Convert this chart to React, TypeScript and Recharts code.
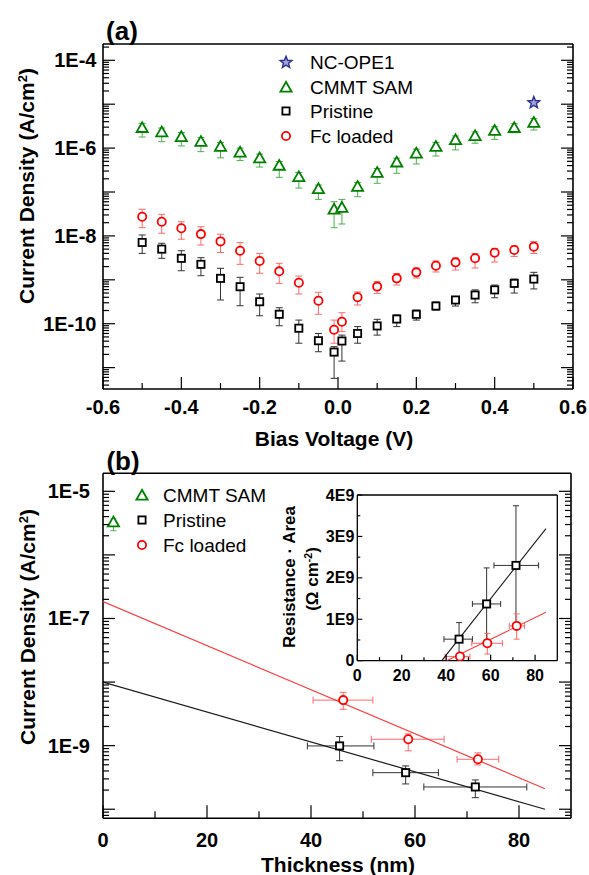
import React from 'react';
import { ScatterChart, Scatter, XAxis, YAxis, ErrorBar } from 'recharts';

const FONT = '"Liberation Sans", Arial, Helvetica, sans-serif';

// ---------- Panel (a): J vs bias ----------
const biasV = [-0.5, -0.45, -0.4, -0.35, -0.3, -0.25, -0.2, -0.15, -0.1, -0.05, -0.01, 0.01, 0.05, 0.1, 0.15, 0.2, 0.25, 0.3, 0.35, 0.4, 0.45, 0.5];
const cmmtJ = [2.9e-6, 2.3e-6, 1.8e-6, 1.4e-6, 1.08e-6, 8.0e-7, 5.9e-7, 4.0e-7, 2.2e-7, 1.17e-7, 4.0e-8, 4.4e-8, 1.32e-7, 2.75e-7, 4.75e-7, 7.6e-7, 1.08e-6, 1.53e-6, 1.89e-6, 2.5e-6, 2.9e-6, 3.8e-6];
const cmmtLo = [1.79e-6, 1.4e-6, 1.12e-6, 8.3e-7, 6.0e-7, 5.2e-7, 3.7e-7, 2.16e-7, 1.23e-7, 6.8e-8, 1.54e-8, 1.87e-8, 7.8e-8, 1.58e-7, 2.67e-7, 4.35e-7, 6.6e-7, 9.1e-7, 1.29e-6, 1.58e-6, 2.24e-6, 2.58e-6];
const cmmtHi = [3.67e-6, 2.87e-6, 2.26e-6, 1.74e-6, 1.34e-6, 1.0e-6, 7.3e-7, 4.95e-7, 2.78e-7, 1.44e-7, 6.0e-8, 6.8e-8, 1.64e-7, 3.43e-7, 5.9e-7, 9.5e-7, 1.34e-6, 1.89e-6, 2.33e-6, 3.07e-6, 3.6e-6, 4.7e-6];

const fcJ = [2.73e-8, 2.1e-8, 1.49e-8, 1.1e-8, 7.5e-9, 4.6e-9, 2.68e-9, 1.56e-9, 8.6e-10, 3.34e-10, 7.3e-11, 1.11e-10, 4.0e-10, 7.0e-10, 1.08e-9, 1.48e-9, 2.09e-9, 2.5e-9, 3.09e-9, 4.14e-9, 4.77e-9, 5.7e-9];
const fcHi = [4.04e-8, 3.1e-8, 2.1e-8, 1.62e-8, 1.09e-8, 7.1e-9, 4.0e-9, 2.38e-9, 1.22e-9, 5.2e-10, 1.21e-10, 1.78e-10, 5.3e-10, 9.1e-10, 1.39e-9, 1.86e-9, 2.68e-9, 3.14e-9, 3.97e-9, 5.2e-9, 5.9e-9, 7.4e-9];
const fcLo = [1.54e-8, 1.15e-8, 8.4e-9, 6.2e-9, 4.2e-9, 2.25e-9, 1.41e-9, 8.3e-10, 4.75e-10, 1.64e-10, 3.6e-11, 6.6e-11, 2.67e-10, 4.9e-10, 7.6e-10, 1.1e-9, 1.51e-9, 1.67e-9, 1.86e-9, 2.54e-9, 3.4e-9, 3.97e-9];

const priJ = [7.1e-9, 5.0e-9, 3.09e-9, 2.25e-9, 1.08e-9, 6.97e-10, 3.17e-10, 1.64e-10, 7.9e-11, 4.1e-11, 2.26e-11, 4.04e-11, 6.0e-11, 8.9e-11, 1.28e-10, 1.64e-10, 2.53e-10, 3.47e-10, 4.5e-10, 5.9e-10, 8.3e-10, 1.04e-9];
const priHi = [1.05e-8, 6.8e-9, 4.6e-9, 3.19e-9, 1.83e-9, 1.14e-9, 4.75e-10, 2.31e-10, 1.21e-10, 6.0e-11, 3.0e-11, 5.5e-11, 8.6e-11, 1.26e-10, 1.58e-10, 2.05e-10, 3.12e-10, 4.06e-10, 5.9e-10, 7.6e-10, 1.04e-9, 1.48e-9];
const priLo = [4.0e-9, 3.09e-9, 1.61e-9, 1.24e-9, 3.47e-10, 2.57e-10, 1.52e-10, 9.0e-11, 3.6e-11, 2.3e-11, 5.7e-12, 1.41e-11, 3.6e-11, 5.5e-11, 8.6e-11, 1.21e-10, 2.05e-10, 2.53e-10, 3.0e-10, 3.9e-10, 5.0e-10, 6.2e-10];

const ncV = [0.5];
const ncJ = [1.08e-5];

const aXDomain = [-0.6, 0.6];
const aYDomain = [3.26e-12, 2.35e-4];
const aXMajor = [-0.6, -0.4, -0.2, 0.0, 0.2, 0.4, 0.6];
const aXMinor = [-0.5, -0.3, -0.1, 0.1, 0.3, 0.5];
const aYLabelExps = [-4, -6, -8, -10];

// ---------- Panel (b): J vs thickness ----------
const cmmtThk = [2];
const cmmtThkJ = [3.26e-6];
const cmmtThkJHi = [3.7e-6];
const cmmtThkJLo = [2.4e-6];

const fcThk = [46.2, 58.7, 72.1];
const fcThkLo = [40.4, 51.6, 68.1];
const fcThkHi = [51.9, 65.6, 76.1];
const fcThkJ = [5.2e-9, 1.26e-9, 6.1e-10];
const fcThkJHi = [6.9e-9, 1.53e-9, 7.7e-10];
const fcThkJLo = [3.73e-9, 8.3e-10, 4.98e-10];

const priThk = [45.5, 58.2, 71.6];
const priThkLo = [39.3, 51.9, 61.7];
const priThkHi = [52.1, 64.5, 81.5];
const priThkJ = [9.9e-10, 3.76e-10, 2.24e-10];
const priThkJHi = [1.39e-9, 4.8e-10, 2.89e-10];
const priThkJLo = [5.8e-10, 2.5e-10, 1.52e-10];

const fcFitX = [0, 85];
const fcFitJ = [1.84e-7, 2.1e-10];
const priFitX = [0, 85];
const priFitJ = [1.0e-8, 1.0e-10];

const bXDomain = [0, 90];
const bYDomain = [7.2e-11, 1.92e-5];
const bXMajor = [0, 20, 40, 60, 80];
const bXMinor = [10, 30, 50, 70];
const bYLabelExps = [-5, -7, -9];

// ---------- Inset: resistance·area vs thickness ----------
const priRAx = [45.8, 58.2, 71.4];
const priRAxLo = [39.0, 51.8, 61.5];
const priRAxHi = [51.8, 64.5, 81.6];
const priRA = [0.52e9, 1.37e9, 2.3e9];
const priRAHi = [0.92e9, 2.24e9, 3.74e9];
const priRALo = [0.12e9, 0.5e9, 0.9e9];

const fcRAx = [46.2, 58.5, 71.7];
const fcRAxLo = [39.5, 51.5, 68.4];
const fcRAxHi = [50.7, 65.3, 75.2];
const fcRA = [0.1e9, 0.42e9, 0.84e9];
const fcRAHi = [0.18e9, 0.66e9, 1.13e9];
const fcRALo = [0.02e9, 0.16e9, 0.52e9];

const priRAFitX = [38.0, 84.9];
const priRAFitY = [0, 3.19e9];
const fcRAFitX = [40.2, 84.9];
const fcRAFitY = [0, 1.17e9];

const inXMajor = [0, 20, 40, 60, 80];
const inXMinor = [10, 30, 50, 70];
const inYMajor = [0, 1e9, 2e9, 3e9, 4e9];
const inYMinor = [0.5e9, 1.5e9, 2.5e9, 3.5e9];
const inYLabels = ['0', '1E9', '2E9', '3E9', '4E9'];

// ---------- colours ----------
const GREEN = '#008000';
const GREEN_ERR = '#4fae4f';
const RED = '#ff0000';
const RED_ERR = '#ff6a6a';
const BLACK = '#000000';
const BLACK_ERR = '#333333';
const BLUE = '#2e3192';

// ---------- helpers ----------
const pts = (xs: number[], ys: number[], lo?: number[], hi?: number[], xlo?: number[], xhi?: number[]) =>
  xs.map((x, i) => ({
    x,
    y: ys[i],
    ey: lo && hi ? [ys[i] - lo[i], hi[i] - ys[i]] : [0, 0],
    ex: xlo && xhi ? [x - xlo[i], xhi[i] - x] : [0, 0],
  }));

const logTicks = (min: number, max: number) => {
  const out: number[] = [];
  for (let e = Math.floor(Math.log10(min)); e <= Math.ceil(Math.log10(max)); e++) {
    for (let m = 1; m <= 9; m++) {
      const v = m * Math.pow(10, e);
      if (v >= min && v <= max) out.push(v);
    }
  }
  return out;
};

const isIn = (v: number, arr: number[]) => arr.some((a) => Math.abs(a - v) < 1e-9 * Math.max(1, Math.abs(a)));

// ---------- markers ----------
const Tri = (p: any) => (
  <polygon
    points={`${p.cx},${p.cy - 5.6} ${p.cx - 5.6},${p.cy + 4.2} ${p.cx + 5.6},${p.cy + 4.2}`}
    fill="#fff"
    stroke={GREEN}
    strokeWidth={1.8}
    strokeLinejoin="miter"
  />
);
const Sq = (p: any) => (
  <rect x={p.cx - 3.6} y={p.cy - 3.6} width={7.2} height={7.2} fill="#fff" stroke={BLACK} strokeWidth={1.8} />
);
const Circ = (p: any) => <circle cx={p.cx} cy={p.cy} r={4.1} fill="#fff" stroke={RED} strokeWidth={1.8} />;
const Star = (p: any) => {
  const R = 6.2;
  const r = 2.7;
  const arr: string[] = [];
  for (let i = 0; i < 10; i++) {
    const rad = i % 2 === 0 ? R : r;
    const ang = -Math.PI / 2 + (i * Math.PI) / 5;
    arr.push(`${p.cx + rad * Math.cos(ang)},${p.cy + rad * Math.sin(ang)}`);
  }
  return <polygon points={arr.join(' ')} fill="#9fa3d8" stroke={BLUE} strokeWidth={1.4} />;
};
const NoShape = () => <g />;

// ---------- ticks ----------
const LogTick = (props: any) => {
  const { x, y, payload, side, labelExps, gap, size } = props;
  const v = payload.value;
  const lg = Math.log10(v);
  const e = Math.round(lg);
  const major = Math.abs(lg - e) < 1e-6;
  const len = major ? 12 : 6;
  const dir = side === 'left' ? 1 : -1;
  return (
    <g>
      <line x1={x} y1={y} x2={x + dir * len} y2={y} stroke="#000" strokeWidth={1.2} />
      {side === 'left' && major && labelExps.includes(e) ? (
        <text x={x - gap} y={y} textAnchor="end" dominantBaseline="central" fontFamily={FONT} fontWeight="bold" fontSize={size} fill="#000">
          {`1E${e}`}
        </text>
      ) : null}
    </g>
  );
};

const XTick = (props: any) => {
  const { x, y, payload, majors, fmt, dy, size, majLen, minLen } = props;
  const v = payload.value;
  const major = isIn(v, majors);
  const len = major ? majLen : minLen;
  return (
    <g>
      <line x1={x} y1={y} x2={x} y2={y - len} stroke="#000" strokeWidth={1.2} />
      {major ? (
        <text x={x} y={y + dy} textAnchor="middle" dominantBaseline="central" fontFamily={FONT} fontWeight="bold" fontSize={size} fill="#000">
          {fmt(v)}
        </text>
      ) : null}
    </g>
  );
};

const InYTick = (props: any) => {
  const { x, y, payload } = props;
  const v = payload.value;
  const idx = inYMajor.findIndex((m) => Math.abs(m - v) < 1);
  const major = idx >= 0;
  return (
    <g>
      <line x1={x} y1={y} x2={x + (major ? 5 : 3)} y2={y} stroke="#000" strokeWidth={1.1} />
      {major ? (
        <text x={x - 3} y={y} textAnchor="end" dominantBaseline="central" fontFamily={FONT} fontWeight="bold" fontSize={16} fill="#000">
          {inYLabels[idx]}
        </text>
      ) : null}
    </g>
  );
};

// ---------- text overlays ----------
const T = ({ x, y, rot = 0, size, bold = false, left = false, children }: any) => (
  <div
    style={{
      position: 'absolute',
      left: x,
      top: y,
      transform: `translate(${left ? '0' : '-50%'},-50%) rotate(${rot}deg)`,
      fontFamily: FONT,
      fontSize: size,
      fontWeight: bold ? 'bold' : 'normal',
      whiteSpace: 'nowrap',
      lineHeight: 1,
      color: '#000',
    }}
  >
    {children}
  </div>
);

const Sup = ({ children }: any) => (
  <span style={{ fontSize: '0.62em', position: 'relative', top: '-0.55em' }}>{children}</span>
);

const LegendMark = ({ kind }: { kind: string }) => (
  <svg width={16} height={16} style={{ display: 'block' }}>
    {kind === 'star' && <Star cx={8} cy={8.5} />}
    {kind === 'tri' && <Tri cx={8} cy={8.5} />}
    {kind === 'sq' && <Sq cx={8} cy={8} />}
    {kind === 'circ' && <Circ cx={8} cy={8} />}
  </svg>
);

const LegendBox = ({ items, mx, tx, y0, dy, size }: any) => (
  <>
    {items.map((it: any, i: number) => (
      <React.Fragment key={it.name}>
        <div style={{ position: 'absolute', left: mx - 8, top: y0 + i * dy - 8 }}>
          <LegendMark kind={it.kind} />
        </div>
        <T x={tx} y={y0 + i * dy} size={size} left>
          {it.name}
        </T>
      </React.Fragment>
    ))}
  </>
);

const legendA = [
  { name: 'NC-OPE1', kind: 'star' },
  { name: 'CMMT SAM', kind: 'tri' },
  { name: 'Pristine', kind: 'sq' },
  { name: 'Fc loaded', kind: 'circ' },
];
const legendB = [
  { name: 'CMMT SAM', kind: 'tri' },
  { name: 'Pristine', kind: 'sq' },
  { name: 'Fc loaded', kind: 'circ' },
];

const axisLine = { stroke: '#000', strokeWidth: 1.6 };

export default function App() {
  const aYTicks = logTicks(aYDomain[0], aYDomain[1]);
  const bYTicks = logTicks(bYDomain[0], bYDomain[1]);
  const aXTicks = [...aXMajor, ...aXMinor].sort((a, b) => a - b);
  const bXTicks = [...bXMajor, ...bXMinor].sort((a, b) => a - b);
  const inXTicks = [...inXMajor, ...inXMinor].sort((a, b) => a - b);
  const inYTicks = [...inYMajor, ...inYMinor].sort((a, b) => a - b);

  const cmmtA = pts(biasV, cmmtJ, cmmtLo, cmmtHi);
  const fcA = pts(biasV, fcJ, fcLo, fcHi);
  const priA = pts(biasV, priJ, priLo, priHi);
  const ncA = pts(ncV, ncJ);

  const cmmtB = pts(cmmtThk, cmmtThkJ, cmmtThkJLo, cmmtThkJHi);
  const fcB = pts(fcThk, fcThkJ, fcThkJLo, fcThkJHi, fcThkLo, fcThkHi);
  const priB = pts(priThk, priThkJ, priThkJLo, priThkJHi, priThkLo, priThkHi);
  const fcFit = pts(fcFitX, fcFitJ);
  const priFit = pts(priFitX, priFitJ);

  const priIn = pts(priRAx, priRA, priRALo, priRAHi, priRAxLo, priRAxHi);
  const fcIn = pts(fcRAx, fcRA, fcRALo, fcRAHi, fcRAxLo, fcRAxHi);
  const priInFit = pts(priRAFitX, priRAFitY);
  const fcInFit = pts(fcRAFitX, fcRAFitY);

  return (
    <div style={{ position: 'absolute', left: 0, top: 0, width: 589, height: 875, background: '#fff', overflow: 'hidden' }}>
      {/* Panel (a): plot area x 103..573, y 44..389 */}
      <div style={{ position: 'absolute', left: 0, top: 0 }}>
        <ScatterChart width={589} height={440} margin={{ top: 43, right: 15, bottom: 50, left: 102 }}>
          <XAxis
            xAxisId="b"
            type="number"
            dataKey="x"
            domain={aXDomain}
            allowDataOverflow
            ticks={aXTicks}
            interval={0}
            height={1}
            tickSize={0}
            tickMargin={0}
            tickLine={false}
            axisLine={axisLine}
            tick={<XTick majors={aXMajor} fmt={(v: number) => v.toFixed(1)} dy={17.5} size={20} majLen={12} minLen={6} />}
          />
          <XAxis xAxisId="t" orientation="top" type="number" dataKey="x" domain={aXDomain} allowDataOverflow height={1} tick={false} tickLine={false} axisLine={axisLine} />
          <YAxis
            yAxisId="l"
            type="number"
            dataKey="y"
            scale="log"
            domain={aYDomain}
            allowDataOverflow
            ticks={aYTicks}
            interval={0}
            width={1}
            tickSize={0}
            tickMargin={0}
            tickLine={false}
            axisLine={axisLine}
            tick={<LogTick side="left" labelExps={aYLabelExps} gap={6.5} size={20} />}
          />
          <YAxis
            yAxisId="r"
            orientation="right"
            type="number"
            dataKey="y"
            scale="log"
            domain={aYDomain}
            allowDataOverflow
            ticks={aYTicks}
            interval={0}
            width={1}
            tickSize={0}
            tickMargin={0}
            tickLine={false}
            axisLine={axisLine}
            tick={<LogTick side="right" labelExps={[]} gap={0} size={20} />}
          />
          <Scatter name="CMMT SAM" xAxisId="b" yAxisId="l" data={cmmtA} shape={Tri} isAnimationActive={false}>
            <ErrorBar dataKey="ey" direction="y" width={3.5} stroke={GREEN_ERR} strokeWidth={1} />
          </Scatter>
          <Scatter name="Pristine" xAxisId="b" yAxisId="l" data={priA} shape={Sq} isAnimationActive={false}>
            <ErrorBar dataKey="ey" direction="y" width={3.5} stroke={BLACK_ERR} strokeWidth={1} />
          </Scatter>
          <Scatter name="Fc loaded" xAxisId="b" yAxisId="l" data={fcA} shape={Circ} isAnimationActive={false}>
            <ErrorBar dataKey="ey" direction="y" width={3.5} stroke={RED_ERR} strokeWidth={1} />
          </Scatter>
          <Scatter name="NC-OPE1" xAxisId="b" yAxisId="l" data={ncA} shape={Star} isAnimationActive={false} />
        </ScatterChart>
      </div>

      {/* Panel (b): plot area x 103..571, y 473.3..818.3 */}
      <div style={{ position: 'absolute', left: 0, top: 440 }}>
        <ScatterChart width={589} height={435} margin={{ top: 32.3, right: 17, bottom: 55.7, left: 102 }}>
          <XAxis
            xAxisId="b"
            type="number"
            dataKey="x"
            domain={bXDomain}
            allowDataOverflow
            ticks={bXTicks}
            interval={0}
            height={1}
            tickSize={0}
            tickMargin={0}
            tickLine={false}
            axisLine={axisLine}
            tick={<XTick majors={bXMajor} fmt={(v: number) => String(v)} dy={22} size={20} majLen={13} minLen={7} />}
          />
          <XAxis xAxisId="t" orientation="top" type="number" dataKey="x" domain={bXDomain} allowDataOverflow height={1} tick={false} tickLine={false} axisLine={axisLine} />
          <YAxis
            yAxisId="l"
            type="number"
            dataKey="y"
            scale="log"
            domain={bYDomain}
            allowDataOverflow
            ticks={bYTicks}
            interval={0}
            width={1}
            tickSize={0}
            tickMargin={0}
            tickLine={false}
            axisLine={axisLine}
            tick={<LogTick side="left" labelExps={bYLabelExps} gap={13} size={20} />}
          />
          <YAxis
            yAxisId="r"
            orientation="right"
            type="number"
            dataKey="y"
            scale="log"
            domain={bYDomain}
            allowDataOverflow
            ticks={bYTicks}
            interval={0}
            width={1}
            tickSize={0}
            tickMargin={0}
            tickLine={false}
            axisLine={axisLine}
            tick={<LogTick side="right" labelExps={[]} gap={0} size={20} />}
          />
          <Scatter name="Fc fit" xAxisId="b" yAxisId="l" data={fcFit} shape={NoShape} line={{ stroke: '#ff3b3b', strokeWidth: 1.2 }} legendType="none" isAnimationActive={false} />
          <Scatter name="Pristine fit" xAxisId="b" yAxisId="l" data={priFit} shape={NoShape} line={{ stroke: '#1a1a1a', strokeWidth: 1.2 }} legendType="none" isAnimationActive={false} />
          <Scatter name="CMMT SAM" xAxisId="b" yAxisId="l" data={cmmtB} shape={Tri} isAnimationActive={false}>
            <ErrorBar dataKey="ey" direction="y" width={3} stroke={GREEN_ERR} strokeWidth={1} />
          </Scatter>
          <Scatter name="Fc loaded" xAxisId="b" yAxisId="l" data={fcB} shape={Circ} isAnimationActive={false}>
            <ErrorBar dataKey="ey" direction="y" width={3.5} stroke={RED_ERR} strokeWidth={1} />
            <ErrorBar dataKey="ex" direction="x" width={3.5} stroke={RED_ERR} strokeWidth={1} />
          </Scatter>
          <Scatter name="Pristine" xAxisId="b" yAxisId="l" data={priB} shape={Sq} isAnimationActive={false}>
            <ErrorBar dataKey="ey" direction="y" width={3.5} stroke={BLACK_ERR} strokeWidth={1} />
            <ErrorBar dataKey="ex" direction="x" width={3.5} stroke={BLACK_ERR} strokeWidth={1} />
          </Scatter>
        </ScatterChart>
      </div>

      {/* Inset: plot area x 357.3..557.3, y 495..660.7 */}
      <div style={{ position: 'absolute', left: 270, top: 470 }}>
        <ScatterChart width={300} height={220} margin={{ top: 24, right: 11.7, bottom: 28.3, left: 86.3 }}>
          <XAxis
            xAxisId="b"
            type="number"
            dataKey="x"
            domain={[0, 90]}
            allowDataOverflow
            ticks={inXTicks}
            interval={0}
            height={1}
            tickSize={0}
            tickMargin={0}
            tickLine={false}
            axisLine={{ stroke: '#000', strokeWidth: 1.3 }}
            tick={<XTick majors={inXMajor} fmt={(v: number) => String(v)} dy={15} size={16} majLen={6} minLen={3.5} />}
          />
          <XAxis xAxisId="t" orientation="top" type="number" dataKey="x" domain={[0, 90]} allowDataOverflow height={1} tick={false} tickLine={false} axisLine={{ stroke: '#000', strokeWidth: 1.3 }} />
          <YAxis
            yAxisId="l"
            type="number"
            dataKey="y"
            domain={[0, 4e9]}
            allowDataOverflow
            ticks={inYTicks}
            interval={0}
            width={1}
            tickSize={0}
            tickMargin={0}
            tickLine={false}
            axisLine={{ stroke: '#000', strokeWidth: 1.3 }}
            tick={<InYTick />}
          />
          <YAxis yAxisId="r" orientation="right" type="number" dataKey="y" domain={[0, 4e9]} allowDataOverflow width={1} tick={false} tickLine={false} axisLine={{ stroke: '#000', strokeWidth: 1.3 }} />
          <Scatter name="Pristine RA fit" xAxisId="b" yAxisId="l" data={priInFit} shape={NoShape} line={{ stroke: '#1a1a1a', strokeWidth: 1.1 }} legendType="none" isAnimationActive={false} />
          <Scatter name="Fc RA fit" xAxisId="b" yAxisId="l" data={fcInFit} shape={NoShape} line={{ stroke: '#ff3b3b', strokeWidth: 1.1 }} legendType="none" isAnimationActive={false} />
          <Scatter name="Pristine RA" xAxisId="b" yAxisId="l" data={priIn} shape={Sq} isAnimationActive={false}>
            <ErrorBar dataKey="ey" direction="y" width={3} stroke={BLACK_ERR} strokeWidth={1} />
            <ErrorBar dataKey="ex" direction="x" width={3} stroke={BLACK_ERR} strokeWidth={1} />
          </Scatter>
          <Scatter name="Fc RA" xAxisId="b" yAxisId="l" data={fcIn} shape={Circ} isAnimationActive={false}>
            <ErrorBar dataKey="ey" direction="y" width={3} stroke={RED_ERR} strokeWidth={1} />
            <ErrorBar dataKey="ex" direction="x" width={3} stroke={RED_ERR} strokeWidth={1} />
          </Scatter>
        </ScatterChart>
      </div>

      {/* Titles and labels */}
      <T x={122} y={31} size={26} bold>(a)</T>
      <T x={123} y={461} size={26} bold>(b)</T>
      <T x={26} y={186} rot={-90} size={21} bold>
        Current Density (A/cm<Sup>2</Sup>)
      </T>
      <T x={26.5} y={627} rot={-90} size={21} bold>
        Current Density (A/cm<Sup>2</Sup>)
      </T>
      <T x={334} y={437.5} size={21} bold>Bias Voltage (V)</T>
      <T x={338} y={864} size={21} bold>Thickness (nm)</T>
      <T x={288.5} y={577} rot={-90} size={17} bold>Resistance · Area</T>
      <T x={311.5} y={579} rot={-90} size={17} bold>
        (Ω cm<Sup>-2</Sup>)
      </T>

      <LegendBox items={legendA} mx={286} tx={310} y0={62} dy={24.6} size={19} />
      <LegendBox items={legendB} mx={142} tx={163} y0={495} dy={25} size={19} />
    </div>
  );
}
